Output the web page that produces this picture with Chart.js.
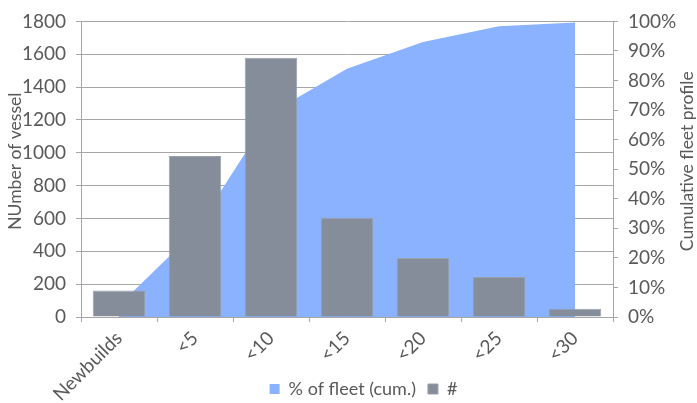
<!DOCTYPE html>
<html>
<head>
<meta charset="utf-8">
<script src="https://cdn.jsdelivr.net/npm/chart.js@4"></script>
<style>
  html, body { margin: 0; padding: 0; background: #ffffff; }
  #wrap { width: 697px; height: 403px; }
</style>
</head>
<body>
<div id="wrap"><canvas id="chart" width="697" height="403"></canvas></div>
<script>
// Fleet age profile: vessel counts per age band and cumulative share of the fleet
const ageBands = ['Newbuilds', '<5', '<10', '<15', '<20', '<25', '<30'];
const vesselCounts = [162, 980, 1578, 605, 360, 243, 50];
const cumulativeShare = [4, 29, 69, 84, 93, 98.4, 99.6];
const countTicks = [0, 200, 400, 600, 800, 1000, 1200, 1400, 1600, 1800];
const shareTicks = [0, 10, 20, 30, 40, 50, 60, 70, 80, 90, 100];

const TEXT = '#595959';
const GRID = '#a6a6a6';
const FONT = 'Lato, "DejaVu Sans", sans-serif';

// Rotated axis titles placed close to the tick labels
const axisTitles = {
  id: 'axisTitles',
  afterDraw(chart) {
    const { ctx, chartArea } = chart;
    const cy = (chartArea.top + chartArea.bottom) / 2 - 8;
    const drawTitle = (text, x) => {
      ctx.save();
      ctx.fillStyle = TEXT;
      ctx.font = '17.5px ' + FONT;
      ctx.textAlign = 'center';
      ctx.textBaseline = 'middle';
      ctx.translate(x, cy);
      ctx.rotate(-Math.PI / 2);
      ctx.fillText(text, 0, 0);
      ctx.restore();
    };
    drawTitle('NUmber of vessel', 15);
    drawTitle('Cumulative fleet profile', 687);
  }
};

// Let the rotated category labels run to the bottom edge, and place the legend
const layoutTweaks = {
  id: 'layoutTweaks',
  afterLayout(chart) {
    chart.scales.x.bottom = chart.height;
    const lg = chart.legend;
    if (lg) {
      lg.left += 15;
      lg.right += 15;
      lg.top += 5;
      lg.bottom += 5;
    }
  }
};

new Chart(document.getElementById('chart'), {
  data: {
    labels: ageBands,
    datasets: [
      {
        type: 'line',
        label: '% of fleet (cum.)',
        data: cumulativeShare,
        yAxisID: 'yShare',
        fill: 'origin',
        backgroundColor: '#8ab2fe',
        borderColor: '#8ab2fe',
        borderWidth: 0,
        pointRadius: 0,
        tension: 0,
        order: 2
      },
      {
        type: 'bar',
        label: '#',
        data: vesselCounts,
        yAxisID: 'yCount',
        backgroundColor: '#858d9a',
        borderColor: '#9aa1ac',
        borderWidth: 1,
        categoryPercentage: 1,
        barPercentage: 0.69,
        order: 1
      }
    ]
  },
  options: {
    responsive: false,
    animation: false,
    layout: { padding: { top: 20, left: 0, right: 0, bottom: 0 } },
    plugins: {
      tooltip: { enabled: false },
      legend: {
        position: 'bottom',
        labels: {
          color: TEXT,
          font: { family: FONT, size: 18 },
          boxWidth: 10,
          boxHeight: 10,
          padding: 12,
          sort: (a, b) => a.datasetIndex - b.datasetIndex
        }
      }
    },
    scales: {
      x: {
        offset: true,
        grid: { drawOnChartArea: false, drawTicks: true, tickLength: 5, color: GRID, offset: true },
        border: { color: GRID },
        ticks: {
          color: TEXT,
          font: { family: FONT, size: 19 },
          maxRotation: 45,
          minRotation: 45,
          padding: 5
        },
        afterFit(scale) { scale.height = 46; }
      },
      yCount: {
        position: 'left',
        min: 0,
        max: 1800,
        afterBuildTicks(scale) { scale.ticks = countTicks.map(v => ({ value: v })); },
        grid: { color: GRID, tickLength: 5 },
        border: { color: GRID },
        ticks: { color: TEXT, font: { family: FONT, size: 19 }, padding: 10, callback: v => String(v) },
        afterFit(scale) { scale.width = 81; }
      },
      yShare: {
        position: 'right',
        min: 0,
        max: 100,
        afterBuildTicks(scale) { scale.ticks = shareTicks.map(v => ({ value: v })); },
        grid: { drawOnChartArea: false, color: GRID, tickLength: 5 },
        border: { color: GRID },
        ticks: { color: TEXT, font: { family: FONT, size: 19 }, padding: 10, callback: v => v + '%' },
        afterFit(scale) { scale.width = 84; }
      }
    }
  },
  plugins: [axisTitles, layoutTweaks]
});
</script>
</body>
</html>
